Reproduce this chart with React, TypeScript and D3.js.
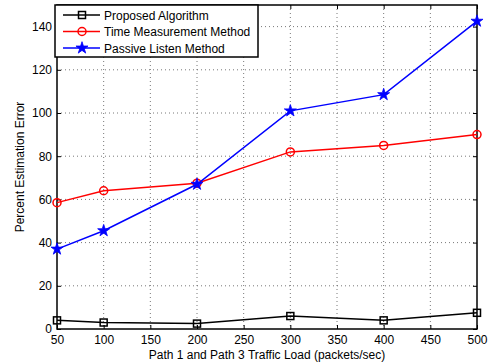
import React, { useEffect, useRef } from 'react';
import * as d3 from 'd3';

const loads = [50, 100, 200, 300, 400, 500];
const proposed = [4, 3, 2.5, 6, 4, 7.5];
const timeMeasurement = [58.5, 64, 67.5, 82, 85, 90];
const passiveListen = [37, 45.5, 67, 101, 108.5, 142.5];
const xTicks = [50, 100, 150, 200, 250, 300, 350, 400, 450, 500];
const yTicks = [0, 20, 40, 60, 80, 100, 120, 140];

const seriesList = [
  { name: 'Proposed Algorithm', values: proposed, color: '#000', marker: 'square' },
  { name: 'Time Measurement Method', values: timeMeasurement, color: '#ff0000', marker: 'circle' },
  { name: 'Passive Listen Method', values: passiveListen, color: '#0000ff', marker: 'star' },
];

const App: React.FC = () => {
  const ref = useRef<SVGSVGElement>(null);

  useEffect(() => {
    if (!ref.current) return;
    const svg = d3.select(ref.current);
    svg.selectAll('*').remove();

    const margin = { top: 5, right: 13, bottom: 35, left: 57 };
    const W = 490, H = 364;
    const width = W - margin.left - margin.right;
    const height = H - margin.top - margin.bottom;
    const font = 'Liberation Sans, Arial, Helvetica, sans-serif';

    const g = svg.append('g').attr('transform', `translate(${margin.left},${margin.top})`);
    const x = d3.scaleLinear().domain([50, 500]).range([0, width]);
    const y = d3.scaleLinear().domain([0, 150]).range([height, 0]);

    // grid
    g.append('g').selectAll('line').data(xTicks.slice(1, -1)).enter().append('line')
      .attr('x1', d => x(d)).attr('x2', d => x(d)).attr('y1', 0).attr('y2', height)
      .attr('stroke', '#555').attr('stroke-width', 0.8).attr('stroke-dasharray', '1,3');
    g.append('g').selectAll('line').data(yTicks.slice(1)).enter().append('line')
      .attr('x1', 0).attr('x2', width).attr('y1', d => y(d)).attr('y2', d => y(d))
      .attr('stroke', '#555').attr('stroke-width', 0.8).attr('stroke-dasharray', '1,3');

    // axes with inward ticks
    const xAxis = g.append('g').attr('transform', `translate(0,${height})`)
      .call(d3.axisBottom(x).tickValues(xTicks).tickSizeInner(-4).tickSizeOuter(0).tickPadding(6));
    const xAxisTop = g.append('g')
      .call(d3.axisTop(x).tickValues(xTicks).tickSizeInner(-4).tickSizeOuter(0).tickFormat(() => ''));
    const yAxis = g.append('g')
      .call(d3.axisLeft(y).tickValues(yTicks).tickSizeInner(-4).tickSizeOuter(0).tickPadding(5));
    const yAxisRight = g.append('g').attr('transform', `translate(${width},0)`)
      .call(d3.axisRight(y).tickValues(yTicks).tickSizeInner(-4).tickSizeOuter(0).tickFormat(() => ''));
    [xAxis, xAxisTop, yAxis, yAxisRight].forEach(a => {
      a.select('.domain').remove();
      a.selectAll('text').attr('font-family', font).attr('font-size', 12).attr('fill', '#000');
    });

    // frame
    g.append('rect').attr('width', width).attr('height', height)
      .attr('fill', 'none').attr('stroke', '#000').attr('stroke-width', 1.5);

    const line = d3.line<number>().x((_, i) => x(loads[i])).y(d => y(d));
    const star = d3.symbol().type(d3.symbolStar).size(45);

    const drawMarker = (sel: any, marker: string, color: string, cx: number, cy: number) => {
      if (marker === 'square') {
        sel.append('rect').attr('x', cx - 3.5).attr('y', cy - 3.5).attr('width', 7).attr('height', 7)
          .attr('fill', 'none').attr('stroke', color).attr('stroke-width', 1.5);
      } else if (marker === 'circle') {
        sel.append('circle').attr('cx', cx).attr('cy', cy).attr('r', 4)
          .attr('fill', 'none').attr('stroke', color).attr('stroke-width', 1.5);
      } else {
        sel.append('path').attr('d', star()).attr('transform', `translate(${cx},${cy})`)
          .attr('fill', color).attr('stroke', color).attr('stroke-width', 0.8);
      }
    };

    seriesList.forEach(s => {
      g.append('path').datum(s.values).attr('d', line)
        .attr('fill', 'none').attr('stroke', s.color).attr('stroke-width', 1.5);
      s.values.forEach((v, i) => drawMarker(g, s.marker, s.color, x(loads[i]), y(v)));
    });

    // legend
    const lg = g.append('g');
    lg.append('rect').attr('x', -2).attr('y', 0).attr('width', 203).attr('height', 52)
      .attr('fill', '#fff').attr('stroke', '#000').attr('stroke-width', 1.5);
    seriesList.forEach((s, i) => {
      const ly = 10 + i * 16.5;
      lg.append('line').attr('x1', 6).attr('x2', 43).attr('y1', ly).attr('y2', ly)
        .attr('stroke', s.color).attr('stroke-width', 1.5);
      drawMarker(lg, s.marker, s.color, 25, ly);
      lg.append('text').attr('x', 47).attr('y', ly + 4.5).attr('font-family', font)
        .attr('font-size', 12).text(s.name);
    });

    // axis labels
    svg.append('text').attr('x', margin.left + width / 2).attr('y', 359)
      .attr('text-anchor', 'middle').attr('font-family', font).attr('font-size', 12)
      .text('Path 1 and Path 3 Traffic Load (packets/sec)');
    svg.append('text').attr('transform', `translate(24,${margin.top + height / 2}) rotate(-90)`)
      .attr('text-anchor', 'middle').attr('font-family', font).attr('font-size', 12)
      .text('Percent Estimation Error');
  }, []);

  return <svg ref={ref} width={490} height={364} style={{ position: 'absolute', left: 0, top: 0, background: '#fff' }} />;
};

export default App;
